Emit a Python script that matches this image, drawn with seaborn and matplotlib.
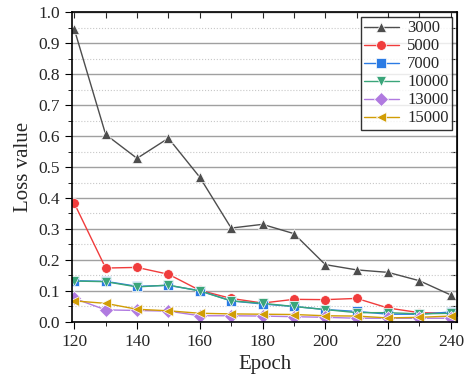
import pandas as pd
import seaborn as sns
from matplotlib import pyplot as plt
from matplotlib.ticker import MultipleLocator, FormatStrFormatter

epochs = [120, 130, 140, 150, 160, 170, 180, 190, 200, 210, 220, 230, 240]
loss_3000 = [0.945, 0.605, 0.528, 0.593, 0.467, 0.303, 0.315, 0.285, 0.185, 0.168, 0.160, 0.133, 0.087]
loss_5000 = [0.383, 0.174, 0.176, 0.154, 0.102, 0.076, 0.061, 0.073, 0.072, 0.076, 0.045, 0.030, 0.028]
loss_7000 = [0.133, 0.131, 0.115, 0.118, 0.101, 0.068, 0.058, 0.050, 0.040, 0.034, 0.025, 0.025, 0.032]
loss_10000 = [0.132, 0.130, 0.113, 0.119, 0.100, 0.068, 0.060, 0.050, 0.040, 0.030, 0.030, 0.026, 0.028]
loss_13000 = [0.076, 0.039, 0.037, 0.035, 0.020, 0.020, 0.019, 0.017, 0.015, 0.012, 0.012, 0.012, 0.012]
loss_15000 = [0.068, 0.060, 0.041, 0.036, 0.028, 0.026, 0.025, 0.024, 0.020, 0.019, 0.013, 0.015, 0.019]

series = {
    '3000': loss_3000,
    '5000': loss_5000,
    '7000': loss_7000,
    '10000': loss_10000,
    '13000': loss_13000,
    '15000': loss_15000,
}
colors = {'3000': '#4d4d4d', '5000': '#f03c3c', '7000': '#2b7be4',
          '10000': '#3aa57a', '13000': '#b07ae0', '15000': '#d19d05'}
markers = {'3000': '^', '5000': 'o', '7000': 's',
           '10000': 'v', '13000': 'D', '15000': '<'}

rows = []
for name, vals in series.items():
    for e, v in zip(epochs, vals):
        rows.append({'Epoch': e, 'Loss': v, 'size': name})
df = pd.DataFrame(rows)

sns.set_style('white')
plt.rcParams['font.family'] = ['Liberation Serif', 'DejaVu Serif']

fig = plt.figure(figsize=(4.65, 3.77), dpi=100)
ax = fig.add_axes([0.155, 0.146, 0.828, 0.822])

sns.lineplot(data=df, x='Epoch', y='Loss', hue='size', style='size',
             palette=colors, markers=markers, dashes=False,
             hue_order=list(series), style_order=list(series),
             markersize=7, markeredgewidth=0.5, linewidth=1, ax=ax)

ax.set_xlim(119.3, 242)
ax.set_ylim(0, 1.0)
ax.xaxis.set_major_locator(MultipleLocator(20))
ax.xaxis.set_minor_locator(MultipleLocator(10))
ax.yaxis.set_major_locator(MultipleLocator(0.1))
ax.yaxis.set_minor_locator(MultipleLocator(0.05))
ax.yaxis.set_major_formatter(FormatStrFormatter('%.1f'))

ax.grid(axis='y', which='major', color='#a0a0a0', linewidth=1, linestyle='-')
ax.grid(axis='y', which='minor', color='#c8c8c8', linewidth=0.8, linestyle=':')
ax.set_axisbelow(True)

for s in ax.spines.values():
    s.set_color('black')
    s.set_linewidth(1.2)
ax.tick_params(which='both', direction='out', top=False, right=False,
               bottom=True, left=True, labelsize=12.5, color='black')
ax.tick_params(which='major', length=5)
ax.tick_params(which='minor', length=3)
ax2 = ax.secondary_xaxis('top')
ax2.xaxis.set_major_locator(MultipleLocator(10))
ax2.tick_params(direction='in', length=4, labeltop=False)
ax3 = ax.secondary_yaxis('right')
ax3.yaxis.set_major_locator(MultipleLocator(0.05))
ax3.tick_params(direction='in', length=4, labelright=False)

ax.set_xlabel('Epoch', fontsize=15)
ax.set_ylabel('Loss value', fontsize=15)

leg = ax.legend(loc='upper right', fontsize=12, frameon=True, fancybox=False,
                edgecolor='black', borderpad=0.2, handlelength=2.1,
                labelspacing=0.12, borderaxespad=0.3, handletextpad=0.5)
leg.get_frame().set_linewidth(1)

plt.savefig('out.png', dpi=100)
